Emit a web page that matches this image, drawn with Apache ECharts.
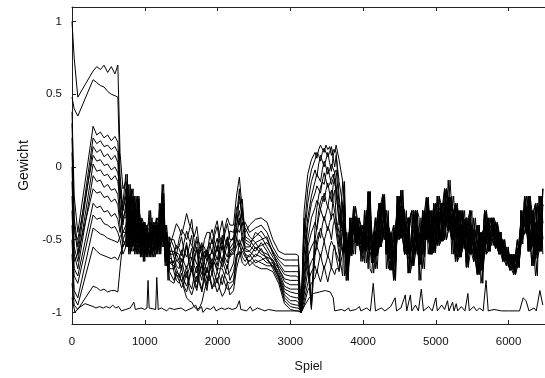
<!DOCTYPE html>
<html><head><meta charset="utf-8">
<script src="https://cdn.jsdelivr.net/npm/echarts@6/dist/echarts.min.js"></script>
<style>html,body{margin:0;padding:0;background:#fff}#c{width:545px;height:378px}</style>
</head><body><div id="c"></div>
<script>
// Spiel (game number) sample positions shared by the weight curves
const spiel = [0,30,80,290,340,390,440,490,540,590,630,660,700,
740,760,780,800,820,840,860,880,900,920,940,960,980,1000,1020,1040,1060,1080,1100,
1120,1140,1160,1180,1200,1220,1240,1260,1280,1300,1320,1340,
1400,1435,1470,1505,1540,1575,1610,1645,1680,1715,1750,1785,1820,1855,1890,1925,1960,1995,2030,2065,2100,2135,2170,
2220,2260,2300,2340,2380,
2440,2520,2600,2680,2760,2840,2920,3000,3080,3110,
3150,3190,3240,3290,3340,3365,3390,3415,3440,3465,3490,3515,3540,3565,3590,3610,3630,3670,
3720,3745,3770,3795,3820,3845,3870,3895,3920,3945,
3970,3995,4020,4045,4070,4095,4120,4145,4170,4195,
4220,4245,4270,4295,4320,4345,4370,4395,4420,4445,
4470,4495,4520,4545,4570,4595,4620,4645,4670,4695,
4720,4745,4770,4795,4820,4845,4870,4895,4920,4945,
4970,4995,5020,5045,5070,5095,5120,5145,5170,5195,
5220,5245,5270,5295,5320,5345,5370,5395,5420,5445,
5470,5495,5520,5545,5570,5595,5620,5645,5670,5695,
5720,5745,5770,5795,5820,5845,5870,5895,5920,5945,
5970,5995,6020,6045,6070,6095,6120,6145,6170,6195,
6220,6245,6270,6295,6320,6345,6370,6395,6420,6445,
6470];

const w0 = [1.00,0.75,0.48,0.66,0.69,0.67,0.70,0.65,0.69,0.64,0.70,0.10,-0.15,
-0.10,-0.25,-0.25,-0.45,-0.15,-0.30,-0.35,-0.50,-0.22,-0.35,-0.45,-0.42,-0.38,-0.60,-0.50,-0.44,-0.30,-0.58,-0.42,
-0.38,-0.48,-0.48,-0.40,-0.40,-0.30,-0.30,-0.12,-0.60,-0.45,-0.58,-0.55,
-0.45,-0.39,-0.42,-0.47,-0.40,-0.32,-0.39,-0.43,-0.48,-0.41,-0.55,-0.61,-0.50,-0.45,-0.45,-0.53,-0.43,-0.37,-0.48,-0.53,-0.42,-0.35,-0.40,
-0.40,-0.20,-0.07,-0.30,-0.45,
-0.40,-0.36,-0.35,-0.38,-0.50,-0.58,-0.60,-0.60,-0.60,-0.61,
-1.00,-0.30,-0.05,0.05,0.10,0.06,0.12,0.15,0.14,0.10,0.15,0.12,0.14,0.08,0.12,0.10,0.15,0.05,
-0.10,-0.26,-0.53,-0.70,-0.61,-0.35,-0.44,-0.52,-0.35,-0.41,
-0.65,-0.53,-0.39,-0.57,-0.44,-0.17,-0.66,-0.58,-0.35,-0.44,
-0.45,-0.36,-0.29,-0.19,-0.70,-0.60,-0.71,-0.54,-0.50,-0.59,
-0.20,-0.50,-0.38,-0.16,-0.60,-0.50,-0.48,-0.58,-0.55,-0.68,
-0.30,-0.50,-0.67,-0.35,-0.50,-0.60,-0.60,-0.31,-0.40,-0.50,
-0.25,-0.35,-0.43,-0.54,-0.51,-0.34,-0.27,-0.38,-0.09,-0.32,
-0.40,-0.50,-0.65,-0.45,-0.62,-0.41,-0.39,-0.56,-0.35,-0.46,
-0.50,-0.42,-0.45,-0.55,-0.74,-0.62,-0.63,-0.54,-0.30,-0.42,
-0.43,-0.50,-0.48,-0.41,-0.56,-0.48,-0.50,-0.55,-0.50,-0.58,
-0.64,-0.59,-0.64,-0.71,-0.60,-0.69,-0.63,-0.69,-0.38,-0.48,
-0.46,-0.38,-0.45,-0.36,-0.30,-0.44,-0.38,-0.63,-0.45,-0.33,
-0.15];

const w1 = [0.48,0.40,0.35,0.60,0.58,0.56,0.55,0.52,0.50,0.49,0.48,-0.05,-0.30,
-0.20,-0.45,-0.12,-0.35,-0.30,-0.50,-0.25,-0.30,-0.40,-0.55,-0.36,-0.48,-0.52,-0.38,-0.42,-0.55,-0.55,-0.48,-0.45,
-0.58,-0.40,-0.42,-0.52,-0.52,-0.35,-0.40,-0.20,-0.45,-0.50,-0.70,-0.48,
-0.55,-0.61,-0.50,-0.43,-0.46,-0.50,-0.44,-0.36,-0.52,-0.57,-0.60,-0.54,-0.55,-0.62,-0.48,-0.43,-0.52,-0.58,-0.45,-0.37,-0.50,-0.54,-0.44,
-0.45,-0.35,-0.15,-0.40,-0.38,
-0.45,-0.42,-0.40,-0.45,-0.55,-0.62,-0.64,-0.64,-0.64,-0.64,
-1.00,-0.45,-0.15,-0.02,0.05,0.10,0.08,0.04,0.10,0.13,0.12,0.07,0.10,0.14,0.06,0.00,0.08,-0.10,
-0.26,-0.43,-0.62,-0.78,-0.35,-0.61,-0.52,-0.35,-0.41,-0.48,
-0.53,-0.40,-0.66,-0.48,-0.17,-0.30,-0.59,-0.45,-0.44,-0.53,
-0.55,-0.45,-0.19,-0.29,-0.50,-0.40,-0.54,-0.63,-0.69,-0.78,
-0.40,-0.20,-0.49,-0.27,-0.40,-0.60,-0.60,-0.35,-0.30,-0.55,
-0.60,-0.48,-0.46,-0.56,-0.70,-0.30,-0.41,-0.30,-0.50,-0.60,
-0.36,-0.46,-0.54,-0.43,-0.43,-0.25,-0.15,-0.39,-0.44,-0.30,
-0.30,-0.40,-0.65,-0.25,-0.51,-0.62,-0.30,-0.42,-0.46,-0.58,
-0.60,-0.40,-0.55,-0.65,-0.51,-0.63,-0.45,-0.54,-0.50,-0.60,
-0.58,-0.46,-0.41,-0.48,-0.50,-0.38,-0.45,-0.60,-0.65,-0.55,
-0.64,-0.58,-0.64,-0.70,-0.60,-0.74,-0.69,-0.56,-0.45,-0.36,
-0.29,-0.20,-0.20,-0.58,-0.55,-0.43,-0.63,-0.75,-0.33,-0.20,
-0.38];

const w2 = [0.38,-0.20,-0.45,0.28,0.22,0.24,0.20,0.22,0.18,0.21,0.17,-0.10,-0.35,
-0.30,-0.15,-0.40,-0.50,-0.20,-0.40,-0.45,-0.55,-0.30,-0.42,-0.50,-0.60,-0.40,-0.50,-0.46,-0.40,-0.38,-0.62,-0.55,
-0.44,-0.55,-0.55,-0.45,-0.45,-0.42,-0.25,-0.28,-0.58,-0.40,-0.52,-0.60,
-0.60,-0.54,-0.56,-0.61,-0.52,-0.44,-0.50,-0.54,-0.58,-0.51,-0.52,-0.58,-0.62,-0.57,-0.52,-0.60,-0.47,-0.41,-0.52,-0.57,-0.46,-0.39,-0.50,
-0.50,-0.28,-0.25,-0.22,-0.50,
-0.52,-0.48,-0.44,-0.50,-0.58,-0.64,-0.68,-0.68,-0.68,-0.68,
-1.00,-0.50,-0.25,-0.10,-0.02,-0.07,0.02,0.08,0.04,0.00,0.05,0.10,0.03,-0.03,0.08,0.12,0.10,-0.20,
-0.43,-0.59,-0.45,-0.55,-0.53,-0.44,-0.35,-0.44,-0.54,-0.35,
-0.40,-0.59,-0.48,-0.39,-0.30,-0.70,-0.73,-0.52,-0.53,-0.61,
-0.35,-0.25,-0.19,-0.40,-0.60,-0.40,-0.45,-0.71,-0.59,-0.40,
-0.30,-0.40,-0.27,-0.38,-0.50,-0.40,-0.35,-0.73,-0.68,-0.55,
-0.40,-0.30,-0.57,-0.45,-0.30,-0.40,-0.50,-0.40,-0.60,-0.30,
-0.48,-0.58,-0.31,-0.40,-0.25,-0.51,-0.39,-0.27,-0.21,-0.32,
-0.50,-0.32,-0.25,-0.35,-0.41,-0.51,-0.56,-0.39,-0.58,-0.69,
-0.30,-0.45,-0.65,-0.55,-0.63,-0.40,-0.80,-0.71,-0.40,-0.52,
-0.35,-0.50,-0.48,-0.35,-0.44,-0.56,-0.60,-0.50,-0.60,-0.54,
-0.55,-0.62,-0.71,-0.66,-0.65,-0.72,-0.56,-0.63,-0.53,-0.42,
-0.20,-0.29,-0.45,-0.36,-0.43,-0.30,-0.25,-0.50,-0.58,-0.33,
-0.26];

const w3 = [0.30,-0.35,-0.55,0.20,0.16,0.18,0.14,0.15,0.12,0.14,0.10,-0.20,-0.25,
-0.05,-0.50,-0.30,-0.28,-0.35,-0.55,-0.20,-0.42,-0.45,-0.60,-0.40,-0.38,-0.55,-0.62,-0.48,-0.52,-0.52,-0.42,-0.40,
-0.50,-0.45,-0.38,-0.35,-0.55,-0.25,-0.45,-0.35,-0.52,-0.55,-0.62,-0.50,
-0.50,-0.56,-0.55,-0.48,-0.58,-0.62,-0.55,-0.47,-0.62,-0.67,-0.68,-0.62,-0.58,-0.65,-0.55,-0.50,-0.58,-0.64,-0.55,-0.47,-0.58,-0.62,-0.52,
-0.48,-0.45,-0.20,-0.35,-0.42,
-0.48,-0.52,-0.50,-0.48,-0.60,-0.66,-0.72,-0.72,-0.72,-0.72,
-1.00,-0.60,-0.35,-0.20,-0.10,-0.05,-0.06,-0.10,-0.02,0.04,0.00,-0.05,-0.02,0.02,0.02,-0.04,-0.05,-0.30,
-0.59,-0.43,-0.53,-0.62,-0.44,-0.52,-0.27,-0.52,-0.48,-0.41,
-0.46,-0.53,-0.57,-0.30,-0.44,-0.57,-0.52,-0.59,-0.61,-0.70,
-0.45,-0.35,-0.40,-0.50,-0.30,-0.45,-0.54,-0.63,-0.78,-0.50,
-0.40,-0.50,-0.38,-0.49,-0.30,-0.48,-0.73,-0.60,-0.43,-0.58,
-0.50,-0.40,-0.78,-0.46,-0.40,-0.60,-0.21,-0.41,-0.30,-0.40,
-0.59,-0.46,-0.31,-0.43,-0.43,-0.25,-0.27,-0.50,-0.44,-0.21,
-0.20,-0.34,-0.45,-0.56,-0.51,-0.30,-0.39,-0.48,-0.69,-0.56,
-0.40,-0.52,-0.35,-0.55,-0.63,-0.51,-0.54,-0.71,-0.60,-0.30,
-0.50,-0.58,-0.35,-0.41,-0.56,-0.38,-0.50,-0.55,-0.60,-0.55,
-0.59,-0.68,-0.60,-0.68,-0.69,-0.60,-0.50,-0.56,-0.45,-0.30,
-0.29,-0.38,-0.58,-0.33,-0.30,-0.68,-0.50,-0.25,-0.33,-0.45,
-0.49];

const w4 = [0.20,-0.40,-0.60,0.14,0.10,0.12,0.07,0.09,0.05,0.08,0.03,-0.30,-0.45,
-0.40,-0.35,-0.20,-0.55,-0.45,-0.25,-0.38,-0.58,-0.25,-0.48,-0.55,-0.62,-0.45,-0.44,-0.58,-0.60,-0.45,-0.54,-0.60,
-0.60,-0.52,-0.50,-0.58,-0.35,-0.48,-0.50,-0.18,-0.62,-0.48,-0.66,-0.65,
-0.65,-0.59,-0.60,-0.65,-0.62,-0.54,-0.60,-0.64,-0.55,-0.48,-0.62,-0.68,-0.70,-0.65,-0.60,-0.68,-0.55,-0.49,-0.60,-0.65,-0.55,-0.48,-0.58,
-0.55,-0.40,-0.30,-0.45,-0.55,
-0.55,-0.45,-0.48,-0.55,-0.62,-0.68,-0.74,-0.75,-0.75,-0.76,
-1.00,-0.35,-0.55,-0.95,-0.40,-0.28,-0.20,-0.14,-0.10,-0.12,-0.05,0.00,-0.06,-0.12,-0.08,-0.04,-0.02,-0.25,
-0.43,-0.10,-0.62,-0.52,-0.44,-0.53,-0.60,-0.35,-0.54,-0.42,
-0.46,-0.56,-0.30,-0.57,-0.57,-0.44,-0.59,-0.45,-0.35,-0.53,
-0.35,-0.55,-0.50,-0.40,-0.50,-0.40,-0.45,-0.71,-0.59,-0.48,
-0.30,-0.20,-0.49,-0.27,-0.40,-0.50,-0.60,-0.35,-0.30,-0.68,
-0.40,-0.52,-0.67,-0.55,-0.50,-0.62,-0.21,-0.31,-0.40,-0.50,
-0.48,-0.59,-0.20,-0.31,-0.51,-0.43,-0.39,-0.15,-0.21,-0.32,
-0.60,-0.30,-0.55,-0.44,-0.30,-0.41,-0.48,-0.38,-0.46,-0.35,
-0.60,-0.48,-0.55,-0.45,-0.40,-0.63,-0.71,-0.45,-0.40,-0.50,
-0.43,-0.52,-0.54,-0.44,-0.38,-0.50,-0.55,-0.45,-0.55,-0.65,
-0.68,-0.59,-0.68,-0.62,-0.60,-0.65,-0.63,-0.69,-0.30,-0.38,
-0.46,-0.38,-0.33,-0.20,-0.55,-0.44,-0.38,-0.63,-0.58,-0.45,
-0.38];

const w5 = [0.10,-0.45,-0.50,0.08,0.04,0.05,0.01,0.02,-0.02,0.00,-0.04,-0.15,-0.40,
-0.25,-0.55,-0.45,-0.42,-0.30,-0.52,-0.50,-0.48,-0.35,-0.20,-0.42,-0.52,-0.60,-0.58,-0.44,-0.45,-0.58,-0.60,-0.50,
-0.42,-0.38,-0.60,-0.48,-0.50,-0.40,-0.38,-0.30,-0.55,-0.60,-0.72,-0.58,
-0.58,-0.64,-0.64,-0.57,-0.66,-0.70,-0.64,-0.56,-0.68,-0.73,-0.58,-0.52,-0.66,-0.73,-0.62,-0.57,-0.62,-0.68,-0.58,-0.50,-0.62,-0.66,-0.56,
-0.52,-0.32,-0.40,-0.28,-0.48,
-0.50,-0.56,-0.54,-0.52,-0.58,-0.70,-0.77,-0.78,-0.78,-0.78,
-1.00,-0.70,-0.40,-0.25,-0.18,-0.13,-0.14,-0.18,-0.10,-0.04,-0.09,-0.14,-0.12,-0.08,-0.05,-0.11,-0.15,-0.40,
-0.26,-0.75,-0.70,-0.58,-0.35,-0.48,-0.44,-0.34,-0.41,-0.48,
-0.53,-0.45,-0.57,-0.39,-0.17,-0.57,-0.66,-0.55,-0.44,-0.58,
-0.45,-0.33,-0.19,-0.35,-0.60,-0.46,-0.54,-0.66,-0.59,-0.40,
-0.50,-0.40,-0.16,-0.38,-0.50,-0.60,-0.48,-0.62,-0.68,-0.55,
-0.50,-0.30,-0.35,-0.57,-0.60,-0.45,-0.31,-0.44,-0.50,-0.60,
-0.25,-0.48,-0.54,-0.20,-0.34,-0.51,-0.27,-0.40,-0.32,-0.44,
-0.50,-0.40,-0.45,-0.25,-0.41,-0.62,-0.56,-0.39,-0.35,-0.58,
-0.50,-0.40,-0.45,-0.65,-0.74,-0.40,-0.63,-0.52,-0.30,-0.40,
-0.50,-0.35,-0.41,-0.48,-0.56,-0.44,-0.55,-0.60,-0.50,-0.60,
-0.59,-0.66,-0.71,-0.60,-0.69,-0.63,-0.69,-0.50,-0.38,-0.45,
-0.38,-0.29,-0.45,-0.58,-0.30,-0.43,-0.63,-0.50,-0.33,-0.20,
-0.60];

const w6 = [0.00,-0.55,-0.65,0.02,-0.03,-0.02,-0.06,-0.05,-0.09,-0.06,-0.10,-0.25,-0.50,
-0.45,-0.45,-0.35,-0.60,-0.50,-0.45,-0.30,-0.60,-0.55,-0.52,-0.48,-0.35,-0.38,-0.48,-0.55,-0.62,-0.48,-0.50,-0.35,
-0.56,-0.58,-0.46,-0.42,-0.58,-0.52,-0.52,-0.40,-0.65,-0.45,-0.56,-0.70,
-0.70,-0.64,-0.66,-0.71,-0.60,-0.52,-0.68,-0.72,-0.64,-0.57,-0.72,-0.78,-0.62,-0.57,-0.66,-0.74,-0.60,-0.54,-0.64,-0.69,-0.60,-0.53,-0.62,
-0.58,-0.50,-0.35,-0.50,-0.58,
-0.58,-0.52,-0.58,-0.60,-0.64,-0.70,-0.79,-0.81,-0.81,-0.81,
-1.00,-0.55,-0.70,-0.98,-0.50,-0.42,-0.30,-0.24,-0.20,-0.24,-0.16,-0.11,-0.18,-0.24,-0.12,-0.08,-0.20,-0.35,
-0.43,-0.26,-0.78,-0.62,-0.61,-0.50,-0.35,-0.46,-0.48,-0.54,
-0.40,-0.52,-0.48,-0.38,-0.30,-0.17,-0.45,-0.52,-0.53,-0.61,
-0.55,-0.25,-0.29,-0.40,-0.40,-0.50,-0.63,-0.45,-0.78,-0.69,
-0.20,-0.30,-0.27,-0.49,-0.60,-0.40,-0.35,-0.60,-0.55,-0.30,
-0.60,-0.48,-0.46,-0.60,-0.30,-0.50,-0.41,-0.21,-0.60,-0.50,
-0.36,-0.25,-0.43,-0.52,-0.25,-0.34,-0.39,-0.50,-0.44,-0.32,
-0.40,-0.50,-0.25,-0.35,-0.62,-0.51,-0.30,-0.56,-0.58,-0.46,
-0.40,-0.30,-0.65,-0.55,-0.63,-0.74,-0.54,-0.66,-0.60,-0.50,
-0.58,-0.50,-0.48,-0.41,-0.38,-0.56,-0.60,-0.55,-0.55,-0.50,
-0.64,-0.58,-0.64,-0.71,-0.74,-0.60,-0.56,-0.66,-0.45,-0.53,
-0.20,-0.36,-0.58,-0.45,-0.43,-0.58,-0.75,-0.63,-0.20,-0.45,
-0.38];

const w7 = [-0.10,-0.60,-0.70,-0.06,-0.10,-0.09,-0.14,-0.12,-0.16,-0.15,-0.19,-0.35,-0.30,
-0.15,-0.50,-0.50,-0.48,-0.40,-0.58,-0.55,-0.40,-0.42,-0.58,-0.60,-0.58,-0.50,-0.65,-0.40,-0.50,-0.62,-0.56,-0.56,
-0.46,-0.44,-0.56,-0.55,-0.44,-0.45,-0.55,-0.25,-0.50,-0.58,-0.78,-0.52,
-0.62,-0.68,-0.70,-0.63,-0.72,-0.76,-0.70,-0.62,-0.74,-0.79,-0.66,-0.60,-0.75,-0.82,-0.68,-0.63,-0.66,-0.72,-0.62,-0.54,-0.66,-0.70,-0.60,
-0.56,-0.42,-0.45,-0.38,-0.52,
-0.54,-0.58,-0.52,-0.58,-0.66,-0.72,-0.82,-0.84,-0.84,-0.84,
-1.00,-0.75,-0.50,-0.35,-0.28,-0.23,-0.25,-0.29,-0.24,-0.18,-0.23,-0.28,-0.20,-0.16,-0.25,-0.31,-0.30,-0.50,
-0.59,-0.46,-0.45,-0.78,-0.53,-0.44,-0.44,-0.27,-0.35,-0.54,
-0.59,-0.46,-0.39,-0.48,-0.70,-0.30,-0.52,-0.59,-0.61,-0.35,
-0.25,-0.55,-0.40,-0.29,-0.40,-0.60,-0.71,-0.63,-0.40,-0.69,
-0.40,-0.30,-0.38,-0.16,-0.40,-0.50,-0.73,-0.60,-0.55,-0.43,
-0.30,-0.60,-0.57,-0.67,-0.40,-0.30,-0.50,-0.41,-0.30,-0.40,
-0.48,-0.59,-0.31,-0.42,-0.51,-0.43,-0.27,-0.15,-0.32,-0.44,
-0.50,-0.30,-0.35,-0.45,-0.51,-0.41,-0.39,-0.48,-0.69,-0.35,
-0.30,-0.60,-0.55,-0.45,-0.40,-0.63,-0.71,-0.45,-0.40,-0.60,
-0.50,-0.58,-0.35,-0.41,-0.56,-0.50,-0.50,-0.45,-0.60,-0.65,
-0.55,-0.64,-0.71,-0.64,-0.65,-0.74,-0.63,-0.56,-0.53,-0.38,
-0.29,-0.46,-0.45,-0.20,-0.30,-0.55,-0.50,-0.25,-0.33,-0.58,
-0.49];

const w8 = [-0.20,-0.65,-0.60,-0.15,-0.18,-0.17,-0.21,-0.20,-0.24,-0.22,-0.26,-0.40,-0.55,
-0.50,-0.55,-0.28,-0.58,-0.55,-0.48,-0.42,-0.56,-0.60,-0.50,-0.38,-0.55,-0.62,-0.42,-0.52,-0.56,-0.42,-0.46,-0.58,
-0.62,-0.50,-0.52,-0.38,-0.60,-0.55,-0.48,-0.45,-0.68,-0.52,-0.64,-0.62,
-0.66,-0.60,-0.64,-0.69,-0.62,-0.54,-0.66,-0.70,-0.62,-0.55,-0.68,-0.74,-0.64,-0.59,-0.62,-0.70,-0.62,-0.56,-0.60,-0.65,-0.56,-0.49,-0.60,
-0.60,-0.55,-0.50,-0.55,-0.60,
-0.62,-0.55,-0.60,-0.62,-0.64,-0.74,-0.84,-0.86,-0.87,-0.87,
-1.00,-0.80,-0.55,-0.45,-0.38,-0.43,-0.35,-0.29,-0.33,-0.37,-0.32,-0.27,-0.30,-0.36,-0.20,-0.16,-0.35,-0.45,
-0.43,-0.30,-0.53,-0.70,-0.44,-0.53,-0.52,-0.27,-0.41,-0.52,
-0.53,-0.59,-0.30,-0.48,-0.57,-0.30,-0.59,-0.52,-0.70,-0.53,
-0.35,-0.25,-0.50,-0.36,-0.30,-0.40,-0.63,-0.52,-0.50,-0.40,
-0.50,-0.38,-0.49,-0.27,-0.30,-0.60,-0.60,-0.35,-0.43,-0.55,
-0.50,-0.40,-0.46,-0.57,-0.60,-0.40,-0.41,-0.50,-0.40,-0.60,
-0.59,-0.36,-0.43,-0.30,-0.25,-0.40,-0.50,-0.27,-0.21,-0.44,
-0.20,-0.40,-0.45,-0.35,-0.30,-0.62,-0.48,-0.38,-0.69,-0.35,
-0.40,-0.60,-0.55,-0.45,-0.51,-0.63,-0.71,-0.60,-0.30,-0.45,
-0.58,-0.50,-0.41,-0.35,-0.38,-0.44,-0.55,-0.60,-0.55,-0.60,
-0.68,-0.55,-0.68,-0.71,-0.60,-0.65,-0.56,-0.69,-0.30,-0.42,
-0.38,-0.28,-0.33,-0.48,-0.68,-0.52,-0.25,-0.40,-0.45,-0.34,
-0.26];

const w9 = [-0.30,-0.70,-0.75,-0.25,-0.28,-0.27,-0.31,-0.30,-0.34,-0.32,-0.36,-0.45,-0.35,
-0.35,-0.10,-0.55,-0.25,-0.25,-0.15,-0.58,-0.35,-0.48,-0.22,-0.62,-0.45,-0.44,-0.38,-0.60,-0.50,-0.54,-0.30,-0.46,
-0.48,-0.60,-0.40,-0.50,-0.30,-0.35,-0.12,-0.50,-0.45,-0.62,-0.55,-0.66,
-0.68,-0.74,-0.76,-0.69,-0.78,-0.82,-0.76,-0.68,-0.78,-0.83,-0.72,-0.66,-0.78,-0.85,-0.72,-0.67,-0.74,-0.80,-0.72,-0.64,-0.70,-0.74,-0.72,
-0.66,-0.48,-0.55,-0.48,-0.56,
-0.58,-0.62,-0.56,-0.64,-0.68,-0.75,-0.86,-0.89,-0.90,-0.90,
-1.00,-0.40,-0.65,-0.97,-0.60,-0.50,-0.45,-0.49,-0.40,-0.34,-0.39,-0.44,-0.38,-0.34,-0.32,-0.38,-0.40,-0.55,
-0.10,-0.22,-0.62,-0.53,-0.53,-0.61,-0.35,-0.44,-0.54,-0.35,
-0.46,-0.65,-0.57,-0.39,-0.44,-0.32,-0.45,-0.66,-0.53,-0.35,
-0.55,-0.45,-0.40,-0.29,-0.40,-0.70,-0.71,-0.58,-0.59,-0.50,
-0.20,-0.32,-0.27,-0.38,-0.50,-0.60,-0.35,-0.48,-0.68,-0.55,
-0.40,-0.30,-0.67,-0.50,-0.50,-0.38,-0.31,-0.60,-0.50,-0.40,
-0.59,-0.25,-0.31,-0.43,-0.43,-0.51,-0.15,-0.27,-0.32,-0.09,
-0.30,-0.40,-0.55,-0.65,-0.41,-0.62,-0.48,-0.39,-0.35,-0.50,
-0.60,-0.50,-0.45,-0.60,-0.63,-0.74,-0.45,-0.63,-0.50,-0.30,
-0.43,-0.55,-0.54,-0.48,-0.50,-0.56,-0.45,-0.50,-0.65,-0.50,
-0.59,-0.64,-0.68,-0.64,-0.65,-0.60,-0.69,-0.63,-0.38,-0.50,
-0.38,-0.46,-0.20,-0.45,-0.55,-0.30,-0.63,-0.38,-0.45,-0.56,
-0.15];

const w10 = [-0.40,-0.75,-0.80,-0.33,-0.36,-0.35,-0.39,-0.40,-0.42,-0.41,-0.45,-0.50,-0.60,
-0.55,-0.20,-0.42,-0.12,-0.52,-0.30,-0.48,-0.25,-0.20,-0.40,-0.52,-0.36,-0.58,-0.52,-0.45,-0.42,-0.60,-0.55,-0.52,
-0.40,-0.42,-0.52,-0.60,-0.35,-0.50,-0.20,-0.38,-0.50,-0.55,-0.48,-0.72,
-0.78,-0.72,-0.74,-0.79,-0.76,-0.68,-0.80,-0.84,-0.75,-0.68,-0.78,-0.84,-0.74,-0.69,-0.76,-0.84,-0.78,-0.72,-0.76,-0.81,-0.74,-0.67,-0.78,
-0.72,-0.60,-0.60,-0.58,-0.62,
-0.65,-0.60,-0.62,-0.66,-0.66,-0.76,-0.88,-0.92,-0.92,-0.93,
-1.00,-0.85,-0.62,-0.55,-0.50,-0.55,-0.48,-0.42,-0.47,-0.51,-0.46,-0.41,-0.44,-0.50,-0.40,-0.36,-0.45,-0.60,
-0.75,-0.26,-0.70,-0.62,-0.35,-0.46,-0.44,-0.52,-0.48,-0.41,
-0.53,-0.60,-0.39,-0.66,-0.57,-0.17,-0.66,-0.59,-0.44,-0.54,
-0.45,-0.55,-0.19,-0.32,-0.60,-0.50,-0.54,-0.64,-0.40,-0.69,
-0.40,-0.28,-0.38,-0.49,-0.60,-0.40,-0.48,-0.60,-0.55,-0.30,
-0.30,-0.60,-0.57,-0.46,-0.60,-0.70,-0.31,-0.41,-0.60,-0.50,
-0.48,-0.36,-0.20,-0.54,-0.51,-0.43,-0.27,-0.15,-0.44,-0.30,
-0.40,-0.30,-0.25,-0.65,-0.62,-0.51,-0.39,-0.30,-0.58,-0.46,
-0.40,-0.60,-0.65,-0.55,-0.40,-0.51,-0.63,-0.45,-0.40,-0.50,
-0.35,-0.58,-0.48,-0.41,-0.44,-0.50,-0.60,-0.45,-0.60,-0.65,
-0.59,-0.64,-0.60,-0.64,-0.69,-0.60,-0.50,-0.69,-0.45,-0.36,
-0.29,-0.40,-0.58,-0.20,-0.43,-0.55,-0.50,-0.63,-0.20,-0.33,
-0.49];

const w11 = [-0.50,-0.85,-0.90,-0.42,-0.44,-0.46,-0.47,-0.49,-0.50,-0.51,-0.52,-0.48,-0.45,
-0.45,-0.30,-0.60,-0.40,-0.45,-0.20,-0.60,-0.45,-0.52,-0.30,-0.35,-0.50,-0.48,-0.40,-0.62,-0.46,-0.50,-0.38,-0.62,
-0.55,-0.56,-0.45,-0.46,-0.42,-0.58,-0.28,-0.52,-0.40,-0.65,-0.60,-0.56,
-0.72,-0.78,-0.80,-0.73,-0.82,-0.86,-0.78,-0.70,-0.80,-0.85,-0.74,-0.68,-0.70,-0.77,-0.78,-0.73,-0.80,-0.86,-0.82,-0.74,-0.80,-0.84,-0.84,
-0.80,-0.65,-0.52,-0.62,-0.65,
-0.60,-0.66,-0.64,-0.62,-0.70,-0.78,-0.90,-0.94,-0.95,-0.95,
-1.00,-0.88,-0.72,-0.65,-0.60,-0.55,-0.58,-0.62,-0.57,-0.51,-0.57,-0.62,-0.55,-0.51,-0.50,-0.56,-0.55,-0.65,
-0.26,-0.43,-0.62,-0.45,-0.61,-0.53,-0.35,-0.46,-0.54,-0.44,
-0.40,-0.55,-0.48,-0.58,-0.17,-0.30,-0.52,-0.73,-0.61,-0.53,
-0.25,-0.35,-0.40,-0.19,-0.50,-0.60,-0.45,-0.58,-0.69,-0.59,
-0.30,-0.42,-0.49,-0.27,-0.40,-0.50,-0.60,-0.35,-0.30,-0.68,
-0.60,-0.40,-0.46,-0.57,-0.50,-0.30,-0.21,-0.50,-0.50,-0.60,
-0.25,-0.48,-0.43,-0.31,-0.34,-0.25,-0.50,-0.39,-0.32,-0.21,
-0.50,-0.36,-0.35,-0.25,-0.51,-0.41,-0.56,-0.44,-0.46,-0.58,
-0.30,-0.48,-0.55,-0.65,-0.74,-0.63,-0.54,-0.80,-0.50,-0.40,
-0.50,-0.35,-0.41,-0.48,-0.56,-0.44,-0.55,-0.60,-0.50,-0.60,
-0.64,-0.55,-0.71,-0.64,-0.60,-0.65,-0.56,-0.66,-0.53,-0.40,
-0.20,-0.34,-0.45,-0.56,-0.43,-0.32,-0.63,-0.25,-0.45,-0.58,
-0.15];

const w12 = [-0.60,-0.90,-0.95,-0.55,-0.58,-0.60,-0.61,-0.62,-0.63,-0.62,-0.64,-0.60,-0.55,
-0.50,-0.05,-0.48,-0.30,-0.58,-0.35,-0.40,-0.20,-0.58,-0.45,-0.58,-0.40,-0.65,-0.55,-0.50,-0.48,-0.56,-0.52,-0.48,
-0.45,-0.46,-0.35,-0.56,-0.25,-0.44,-0.35,-0.55,-0.55,-0.50,-0.50,-0.78,
-0.80,-0.74,-0.78,-0.83,-0.80,-0.72,-0.84,-0.88,-0.82,-0.75,-0.80,-0.86,-0.76,-0.71,-0.74,-0.82,-0.82,-0.76,-0.84,-0.89,-0.86,-0.79,-0.88,
-0.85,-0.70,-0.62,-0.55,-0.60,
-0.68,-0.64,-0.66,-0.68,-0.68,-0.76,-0.92,-0.96,-0.97,-0.97,
-1.00,-0.92,-0.80,-0.72,-0.68,-0.73,-0.66,-0.60,-0.66,-0.70,-0.66,-0.61,-0.64,-0.70,-0.58,-0.54,-0.62,-0.72,
-0.59,-0.48,-0.78,-0.53,-0.44,-0.56,-0.27,-0.40,-0.54,-0.48,
-0.46,-0.58,-0.48,-0.57,-0.30,-0.44,-0.59,-0.52,-0.35,-0.61,
-0.55,-0.45,-0.29,-0.40,-0.60,-0.30,-0.63,-0.54,-0.69,-0.78,
-0.30,-0.40,-0.16,-0.38,-0.50,-0.30,-0.60,-0.73,-0.43,-0.60,
-0.60,-0.50,-0.67,-0.78,-0.30,-0.40,-0.41,-0.21,-0.40,-0.30,
-0.59,-0.46,-0.31,-0.50,-0.43,-0.32,-0.15,-0.27,-0.44,-0.28,
-0.30,-0.20,-0.45,-0.58,-0.41,-0.51,-0.48,-0.39,-0.35,-0.69,
-0.60,-0.40,-0.45,-0.35,-0.63,-0.52,-0.45,-0.54,-0.60,-0.48,
-0.58,-0.50,-0.41,-0.35,-0.50,-0.56,-0.45,-0.50,-0.65,-0.60,
-0.64,-0.59,-0.64,-0.60,-0.74,-0.69,-0.63,-0.50,-0.38,-0.45,
-0.46,-0.29,-0.20,-0.58,-0.55,-0.30,-0.25,-0.50,-0.58,-0.33,
-0.26];

const w13 = [-0.80,-0.95,-0.98,-0.82,-0.83,-0.85,-0.84,-0.86,-0.85,-0.85,-0.86,-0.70,-0.50,
-0.55,-0.40,-0.58,-0.20,-0.48,-0.45,-0.56,-0.38,-0.50,-0.25,-0.55,-0.55,-0.42,-0.45,-0.56,-0.58,-0.46,-0.45,-0.58,
-0.52,-0.62,-0.58,-0.52,-0.48,-0.60,-0.18,-0.48,-0.48,-0.68,-0.65,-0.64,
-0.66,-0.70,-0.75,-0.78,-0.84,-0.90,-0.92,-0.93,-0.96,-0.98,-0.97,-0.93,-0.85,-0.78,-0.70,-0.66,-0.66,-0.70,-0.70,-0.70,-0.75,-0.79,-0.80,
-0.78,-0.62,-0.58,-0.66,-0.68,
-0.64,-0.68,-0.70,-0.70,-0.72,-0.80,-0.94,-0.98,-0.99,-0.99,
-1.00,-0.95,-0.85,-0.80,-0.76,-0.71,-0.75,-0.79,-0.74,-0.68,-0.74,-0.79,-0.73,-0.69,-0.68,-0.74,-0.70,-0.70,
-0.43,-0.55,-0.70,-0.62,-0.53,-0.44,-0.27,-0.60,-0.41,-0.54,
-0.59,-0.46,-0.48,-0.30,-0.30,-0.57,-0.52,-0.59,-0.53,-0.35,
-0.25,-0.35,-0.50,-0.38,-0.40,-0.50,-0.63,-0.45,-0.40,-0.59,
-0.50,-0.30,-0.27,-0.49,-0.60,-0.40,-0.35,-0.60,-0.55,-0.30,
-0.40,-0.54,-0.57,-0.67,-0.40,-0.50,-0.50,-0.21,-0.60,-0.40,
-0.36,-0.48,-0.43,-0.20,-0.25,-0.51,-0.27,-0.39,-0.44,-0.21,
-0.40,-0.60,-0.35,-0.55,-0.62,-0.30,-0.48,-0.36,-0.35,-0.46,
-0.60,-0.45,-0.45,-0.55,-0.63,-0.40,-0.71,-0.58,-0.30,-0.40,
-0.50,-0.43,-0.35,-0.54,-0.44,-0.38,-0.60,-0.55,-0.60,-0.55,
-0.55,-0.68,-0.71,-0.68,-0.65,-0.60,-0.69,-0.63,-0.30,-0.44,
-0.38,-0.46,-0.33,-0.48,-0.68,-0.55,-0.25,-0.38,-0.45,-0.58,
-0.26];

// lowest weight, hugging -1 with small spikes
const bottomSpiel = [0,40,90,180,290,330,380,430,470,520,
560,600,640,680,740,800,850,870,950,1000,
1030,1045,1060,1150,1165,1185,1230,1300,1340,1400,
1500,1560,1650,1700,1730,1780,1800,1850,1900,1950,
1980,2050,2100,2150,2200,2260,2300,2320,2400,2450,
2480,2550,2600,2650,2700,2800,2900,3000,3100,3150,
3200,3260,3320,3400,3480,3550,3590,3610,3700,3750,
3800,3820,3900,3950,3970,4050,4100,4140,4170,4250,
4300,4380,4440,4460,4520,4580,4600,4650,4670,4720,
4760,4800,4830,4900,4950,5000,5020,5080,5120,5160,
5180,5230,5250,5280,5300,5350,5400,5440,5460,5520,
5560,5600,5650,5690,5720,5800,5900,6000,6100,6150,
6200,6240,6280,6350,6380,6430,6470];
const bottomW = [-0.90,-1.00,-0.97,-0.94,-0.96,-0.97,-0.96,-0.97,-0.96,-0.97,
-0.95,-0.97,-0.96,-0.99,-0.98,-0.97,-0.93,-0.98,-0.97,-0.98,
-0.97,-0.78,-0.97,-0.98,-0.76,-0.98,-0.97,-0.99,-0.97,-0.98,
-0.97,-0.99,-0.97,-0.95,-0.99,-0.96,-1.00,-0.97,-0.98,-0.96,
-0.99,-0.97,-0.98,-0.97,-0.98,-0.97,-0.92,-0.98,-0.99,-0.96,
-0.99,-0.97,-0.98,-0.99,-0.98,-0.99,-0.99,-0.99,-0.99,-1.00,
-0.95,-0.90,-0.87,-0.86,-0.85,-0.86,-0.90,-0.99,-0.98,-0.99,
-0.97,-0.99,-0.98,-0.96,-0.99,-0.97,-0.99,-0.80,-0.99,-0.97,
-0.99,-0.96,-0.90,-0.99,-0.97,-0.88,-0.99,-0.88,-0.99,-0.95,
-0.99,-0.84,-0.99,-0.96,-0.99,-0.90,-0.99,-0.95,-0.98,-0.92,
-0.99,-0.93,-0.99,-0.94,-0.99,-0.96,-0.99,-0.87,-0.99,-0.96,
-0.99,-0.97,-0.99,-0.78,-0.99,-0.98,-0.99,-0.99,-0.99,-0.99,
-0.90,-0.92,-0.99,-0.97,-0.99,-0.85,-0.95];

const xTicks = [0,1000,2000,3000,4000,5000,6000];
const yTicks = [-1,-0.5,0,0.5,1];
const curves = [w0,w1,w2,w3,w4,w5,w6,w7,w8,w9,w10,w11,w12,w13];

const lineStyle = {color:'#000', width:1};
const series = curves.map(w => ({
  type:'line', data: spiel.map((x,i)=>[x,w[i]]), symbol:'none', showSymbol:false,
  lineStyle: lineStyle, silent:true, animation:false
}));
series.push({type:'line', data: bottomSpiel.map((x,i)=>[x,bottomW[i]]), symbol:'none', showSymbol:false,
  lineStyle: lineStyle, silent:true, animation:false});

const font = 'Liberation Sans, Arial, sans-serif';
const axisCol = '#222';
const chart = echarts.init(document.getElementById('c'), null, {renderer:'canvas'});
chart.setOption({
  animation:false,
  backgroundColor:'#fff',
  grid:{left:72, right:-2, top:7, bottom:53, containLabel:false},
  xAxis:[{
    type:'value', min:0, max:6500, position:'bottom',
    name:'Spiel', nameLocation:'middle', nameGap:36,
    nameTextStyle:{fontFamily:font, fontSize:12.5, color:'#111'},
    axisLine:{show:true, onZero:false, lineStyle:{color:axisCol, width:1}},
    axisTick:{show:true, inside:true, length:4, customValues:xTicks, lineStyle:{color:axisCol}},
    axisLabel:{customValues:xTicks, margin:12, fontFamily:font, fontSize:11.5, color:'#111',
      formatter: v => String(v)},
    splitLine:{show:false}
  },{
    type:'value', min:0, max:6500, position:'top',
    axisLine:{show:true, onZero:false, lineStyle:{color:axisCol, width:1}},
    axisTick:{show:true, inside:true, length:4, customValues:xTicks, lineStyle:{color:axisCol}},
    axisLabel:{show:false}, splitLine:{show:false}
  }],
  yAxis:{
    type:'value', min:-1.08, max:1.1,
    name:'Gewicht', nameLocation:'middle', nameGap:41, nameRotate:90,
    nameTextStyle:{fontFamily:font, fontSize:14, color:'#111'},
    axisLine:{show:true, onZero:false, lineStyle:{color:axisCol, width:1}},
    axisTick:{show:true, inside:true, length:4, customValues:yTicks, lineStyle:{color:axisCol}},
    axisLabel:{customValues:yTicks, margin:10, fontFamily:font, fontSize:11.5, color:'#111',
      formatter: v => String(v)},
    splitLine:{show:false}
  },
  series: series
});
</script>
</body></html>
